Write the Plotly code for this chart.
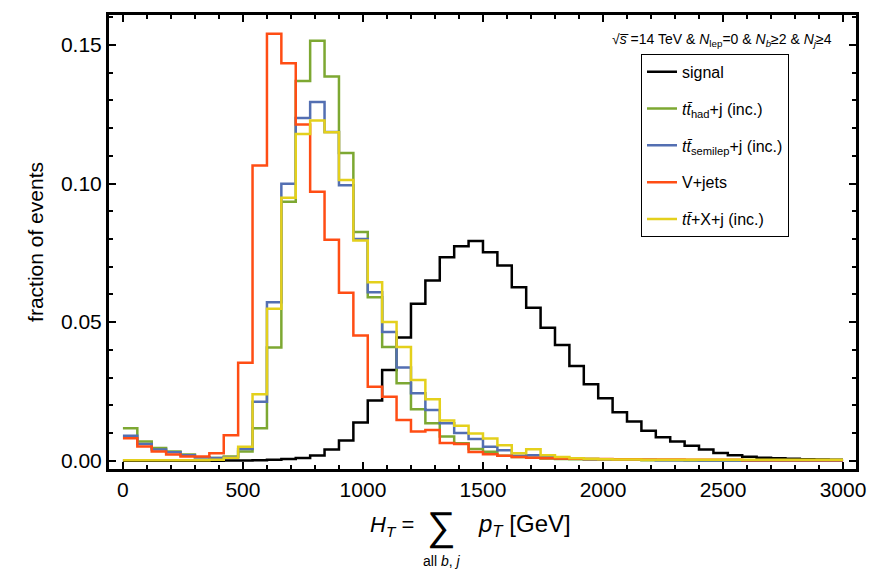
import plotly.graph_objects as go

# ---------------- data (fraction of events per 60 GeV bin, 0..3000 GeV) ----------------
bin_width = 60
n_bins = 50
bin_edges = [i * bin_width for i in range(n_bins + 1)]

signal = [0, 0, 0, 0, 0, 0, 0, 0.0001, 0.0001, 0.0002,
          0.0003, 0.0006, 0.0010, 0.0019, 0.0040, 0.0073, 0.0138, 0.0217, 0.0327, 0.0444,
          0.0566, 0.0650, 0.0734, 0.0774, 0.0793, 0.0752, 0.0704, 0.0626, 0.0552, 0.0480,
          0.0417, 0.0342, 0.0276, 0.0225, 0.0175, 0.0141, 0.0108, 0.0085, 0.0069, 0.0054,
          0.0040, 0.0028, 0.0020, 0.0014, 0.0011, 0.0009, 0.0007, 0.0005, 0.0004, 0.0003]

tt_had = [0.0117, 0.0069, 0.0046, 0.0033, 0.0022, 0.0012, 0.0010, 0.0015, 0.0033, 0.0117,
          0.0408, 0.0934, 0.1370, 0.1515, 0.1386, 0.1110, 0.0825, 0.0590, 0.0410, 0.0279,
          0.0186, 0.0135, 0.0087, 0.0063, 0.0042, 0.0032, 0.0018, 0.0013, 0.0011, 0.0008,
          0.0006, 0.0005, 0.0004, 0.0004, 0.0003, 0.0003, 0.0002, 0.0002, 0.0002, 0.0001,
          0.0001, 0.0001, 0.0001, 0.0001, 0.0001, 0.0001, 0.0001, 0.0001, 0.0001, 0.0001]

tt_semilep = [0.0090, 0.0060, 0.0040, 0.0030, 0.0020, 0.0012, 0.0010, 0.0012, 0.0042, 0.0213,
              0.0572, 0.0999, 0.1236, 0.1294, 0.1186, 0.0994, 0.0800, 0.0608, 0.0464, 0.0336,
              0.0243, 0.0183, 0.0135, 0.0100, 0.0078, 0.0050, 0.0038, 0.0018, 0.0020, 0.0012,
              0.0010, 0.0008, 0.0006, 0.0005, 0.0004, 0.0003, 0.0003, 0.0002, 0.0002, 0.0002,
              0.0001, 0.0001, 0.0001, 0.0001, 0.0001, 0.0001, 0.0001, 0.0001, 0.0001, 0.0001]

v_jets = [0.0081, 0.0051, 0.0033, 0.0022, 0.0015, 0.0015, 0.0027, 0.0092, 0.0353, 0.1065,
          0.1540, 0.1434, 0.1213, 0.0970, 0.0797, 0.0606, 0.0452, 0.0267, 0.0231, 0.0147,
          0.0105, 0.0111, 0.0064, 0.0060, 0.0031, 0.0023, 0.0018, 0.0013, 0.0011, 0.0009,
          0.0008, 0.0007, 0.0006, 0.0006, 0.0005, 0.0005, 0.0004, 0.0004, 0.0004, 0.0003,
          0.0003, 0.0003, 0.0003, 0.0002, 0.0002, 0.0002, 0.0002, 0.0002, 0.0002, 0.0002]

ttx = [0.0002, 0.0002, 0.0002, 0.0002, 0.0002, 0.0002, 0.0003, 0.0011, 0.0050, 0.0240,
       0.0548, 0.0949, 0.1179, 0.1227, 0.1185, 0.1013, 0.0794, 0.0644, 0.0500, 0.0410,
       0.0291, 0.0222, 0.0145, 0.0126, 0.0098, 0.0080, 0.0056, 0.0027, 0.0041, 0.0020,
       0.0013, 0.0009, 0.0007, 0.0005, 0.0004, 0.0004, 0.0003, 0.0003, 0.0003, 0.0003,
       0.0003, 0.0003, 0.0003, 0.0003, 0.0003, 0.0003, 0.0003, 0.0003, 0.0003, 0.0003]

x_tick_vals = [0, 500, 1000, 1500, 2000, 2500, 3000]
y_tick_vals = [0.00, 0.05, 0.10, 0.15]

series = [
    ("signal", signal, "#000000"),
    ("<i>tt\u0304</i><sub>had</sub>+j (inc.)", tt_had, "rgb(125,168,50)"),
    ("<i>tt\u0304</i><sub>semilep</sub>+j (inc.)", tt_semilep, "rgb(83,111,178)"),
    ("V+jets", v_jets, "rgb(255,77,20)"),
    ("<i>tt\u0304</i>+X+j (inc.)", ttx, "rgb(228,208,28)"),
]

FONT = "Liberation Sans, Arial, Helvetica, sans-serif"

fig = go.Figure()
for i, (name, vals, col) in enumerate(series):
    fig.add_trace(go.Scatter(
        x=bin_edges, y=list(vals) + [vals[-1]],
        mode="lines", line=dict(shape="hv", color=col, width=2.5),
        name=name, legendgroup=f"g{i}",
    ))

W, H = 878, 577
L, R, T, B = 109, 22, 13, 108
pw, ph = W - L - R, H - T - B

def px(x):
    return (x - L) / pw

def py(y):
    return (H - B - y) / ph

axis_common = dict(
    showline=True, linecolor="black", linewidth=3, mirror="allticks",
    ticks="inside", ticklen=7, tickwidth=2, tickcolor="black",
    showgrid=False, zeroline=False,
    tickfont=dict(family=FONT, size=21, color="black"),
)

fig.update_layout(
    width=W, height=H,
    margin=dict(l=L, r=R, t=T, b=B),
    paper_bgcolor="white", plot_bgcolor="white",
    font=dict(family=FONT, color="black"),
    xaxis=dict(range=[-58, 3054], tickvals=x_tick_vals,
               minor=dict(dtick=100, ticks="inside", ticklen=4, tickwidth=1.5, tickcolor="black"),
               **axis_common),
    yaxis=dict(range=[-0.003, 0.1608], tickvals=y_tick_vals, tickformat=".2f",
               minor=dict(dtick=0.01, ticks="inside", ticklen=4, tickwidth=1.5, tickcolor="black"),
               title=dict(text="fraction of events", font=dict(family=FONT, size=21), standoff=12),
               **axis_common),
    legend=dict(x=px(641), y=py(52), xanchor="left", yanchor="top",
                bgcolor="white", bordercolor="black", borderwidth=1,
                font=dict(family=FONT, size=16, color="black"),
                itemwidth=30, tracegroupgap=13),
    showlegend=True,
)

ann = [
    dict(text="\u221a<i>s\u0305</i> =14 TeV &amp; <i>N</i><sub>lep</sub>=0 &amp; <i>N</i><sub><i>b</i></sub>\u22652 &amp; <i>N</i><sub><i>j</i></sub>\u22654",
         x=px(834), y=py(38), xanchor="right", yanchor="middle", font=dict(size=14)),
    dict(text="<i>H</i><sub><i>T</i></sub> =", x=px(416), y=py(526), xanchor="right", yanchor="middle",
         font=dict(size=22)),
    dict(text="\u2211", x=px(441), y=py(527), xanchor="center", yanchor="middle", font=dict(size=40)),
    dict(text="<i>p</i><sub><i>T</i></sub> [GeV]", x=px(476), y=py(526), xanchor="left", yanchor="middle",
         font=dict(size=24)),
    dict(text="all <i>b</i>, <i>j</i>", x=px(441), y=py(561), xanchor="center", yanchor="middle",
         font=dict(size=14)),
]
for a in ann:
    a.update(xref="paper", yref="paper", showarrow=False)
    a["font"] = dict(family=FONT, color="black", **a["font"])
    fig.add_annotation(**a)

fig.write_html("out.html")
